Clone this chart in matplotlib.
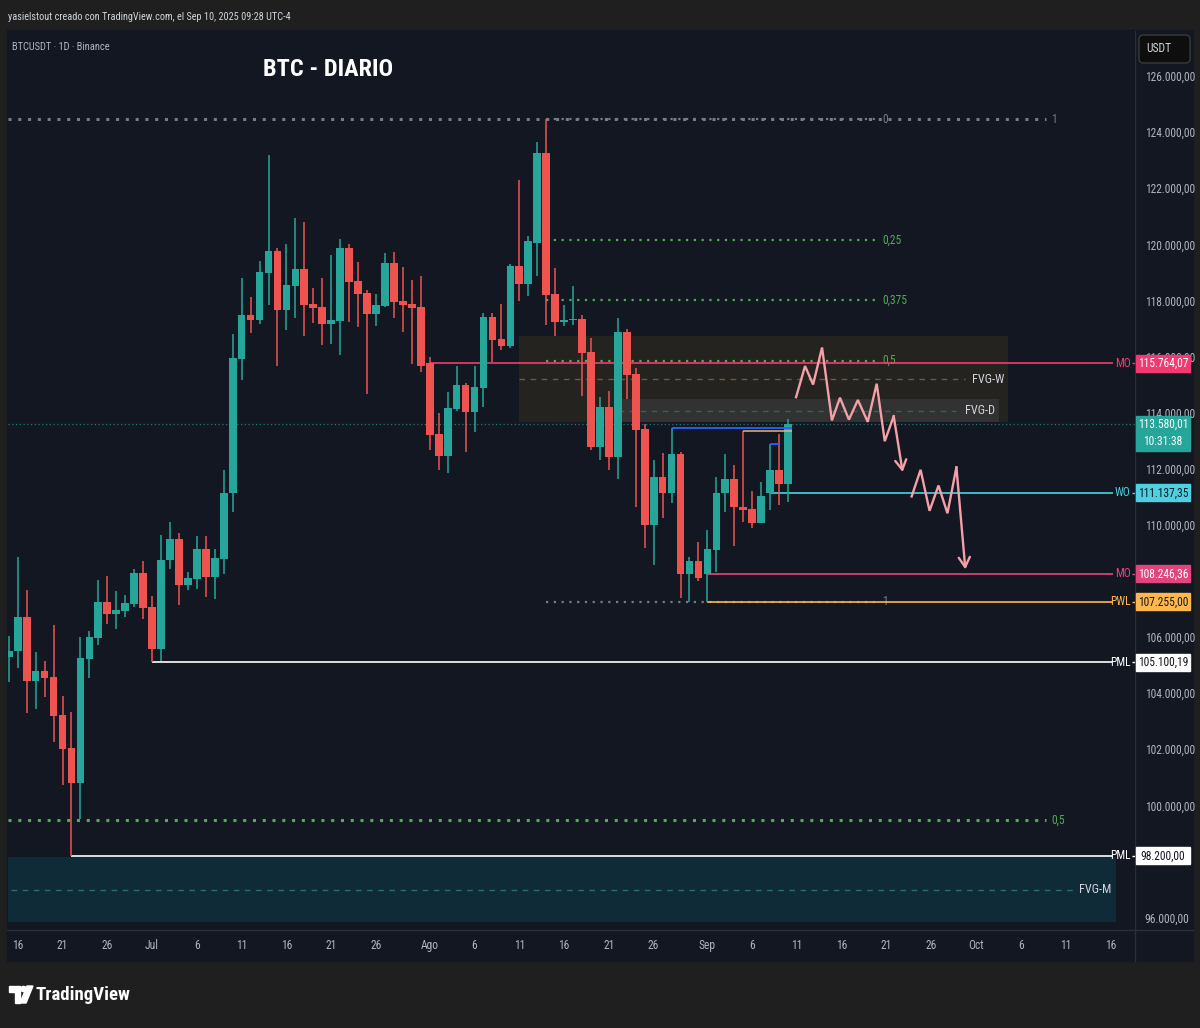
import matplotlib
matplotlib.use('Agg')
import matplotlib.pyplot as plt
import matplotlib.patches as mpatches
import matplotlib.transforms as mtransforms
from matplotlib import font_manager
import numpy as np
import pandas as pd

# pick a narrow face if the system has one
fonts = font_manager.fontManager.ttflist
names = {f.name for f in fonts}
STRETCH = 'normal'
if 'Liberation Sans Narrow' in names:
    NARROW = 'Liberation Sans Narrow'
elif 'Roboto Condensed' in names:
    NARROW = 'Roboto Condensed'
elif any(f.name == 'DejaVu Sans' and f.stretch == 'condensed' for f in fonts):
    NARROW, STRETCH = 'DejaVu Sans', 'condensed'
else:
    NARROW = 'DejaVu Sans'
plt.rcParams['font.family'] = [NARROW, 'DejaVu Sans']
plt.rcParams['font.stretch'] = STRETCH
SCALE = 1.0 if NARROW != 'DejaVu Sans' or STRETCH == 'condensed' else 0.82

# ---- data: BTCUSDT 1D, Jun 15 -> Sep 10 2025 ----
dates = pd.date_range('2025-06-15', '2025-09-10', freq='D')
opens = [105300, 105500, 106700, 104430, 104780, 104570, 103210, 102030, 100810, 105210,
         105960, 107250, 106820, 106930, 107180, 108290,
         107070, 105570, 108760, 109510, 107860, 108080, 109120, 108150, 108790, 111120,
         115910, 117480, 117300, 118990, 119770, 117660, 118520, 119130, 117880, 117770,
         117160, 117270, 119880, 118700, 118270, 117520, 117810, 119350, 117990, 117880,
         117770,
         115764, 113230, 112440, 114120, 114980, 114020, 114870, 117410, 116630, 116380,
         119240, 118590, 120060, 123250, 118240, 117230, 117300, 117340, 116160, 112760,
         114190, 112400, 116880, 115370, 113410, 110010, 111690, 111150, 112510, 108250,
         108720,
         108246, 109110, 111120, 111620, 110650, 110580, 110080, 111137, 111970, 111440]
highs = [106050, 108860, 107680, 105460, 105140, 106430, 103890, 103320, 106000, 106210,
         108040, 108180, 107640, 107500, 108430, 108720,
         107470, 109650, 110100, 109690, 108330, 109610, 109610, 109150, 111940, 116800,
         118810, 118130, 119420, 123170, 119880, 120020, 120950, 120780, 118450, 118810,
         119630, 120200, 120020, 119380, 118380, 118240, 119700, 119740, 119200, 118740,
         118880,
         115980, 113980, 114730, 115660, 115050, 115660, 117560, 117560, 117880, 119300,
         122280, 120280, 123640, 124450, 119170, 117840, 118520, 117480, 116660, 114550,
         114770, 117380, 116980, 115590, 113580, 112300, 112550, 113440, 112580, 108860,
         109400,
         109830, 111690, 112510, 112120, 113330, 111220, 111510, 112870, 113230, 113760]
lows = [104400, 104890, 103280, 103420, 103860, 102240, 100740, 98200, 99520, 104530,
        105710, 106460, 106290, 106710, 107070, 106640,
        105100, 105150, 108430, 107140, 107680, 107720, 107430, 107360, 108250, 110440,
        115160, 116840, 117160, 117840, 115660, 116950, 117380, 116730, 117200, 116410,
        116450, 116050, 117230, 117060, 114660, 117090, 117770, 117380, 116880, 115730,
        115450,
        112650, 111940, 111830, 114050, 112580, 113300, 114190, 115800, 116230, 116300,
        117990, 118160, 118880, 117130, 116730, 117090, 117130, 114590, 112660, 112300,
        111940, 111620, 114480, 110620, 109180, 108580, 110260, 110790, 107400, 107250,
        108000,
        107255, 108330, 110440, 109260, 110110, 109900, 110080, 110540, 110690, 110830]
closes = [105500, 106700, 104430, 104780, 104530, 103170, 101990, 100810, 105250, 106000,
          107250, 106820, 106970, 107220, 108290, 107040,
          105570, 108760, 109510, 107860, 108110, 109120, 108150, 108830, 111150, 115950,
          117480, 117300, 119020, 119770, 117660, 118560, 119130, 117840, 117740, 117160,
          117300, 119880, 118670, 118240, 117520, 117840, 119350, 117950, 117840, 117740,
          115660,
          113190, 112440, 114160, 114980, 114020, 114910, 117410, 116590, 116380, 119240,
          118590, 120100, 123250, 118200, 117230, 117310, 117340, 116130, 112760, 114190,
          112400, 116880, 115340, 113370, 110010, 111690, 111150, 112510, 108250, 108720,
          108110,
          109150, 111150, 111620, 110620, 110540, 110080, 111040, 111970, 111440, 113580.01]

# key levels (label, price, start date)
level_names = ['MO', 'WO', 'MO', 'PWL', 'PML', 'PML']
level_prices = [115764.07, 111137.35, 108246.36, 107255.00, 105100.19, 98200.00]
level_starts = ['2025-08-01', '2025-09-08', '2025-09-01', '2025-09-01', '2025-07-01', '2025-06-22']
level_colors = ['#f23a70', '#4dd0e1', '#e0467c', '#ffb74d', '#ffffff', '#ffffff']
level_box_text = ['#ffffff', '#131722', '#ffffff', '#131722', '#131722', '#131722']

# fair value gaps (name, top, bottom, start, end)
fvg_names = ['FVG-W', 'FVG-D', 'FVG-M']
fvg_tops = [116730, 114480, 98150]
fvg_bottoms = [113665, 113665, 95830]
fvg_starts = ['2025-08-11', '2025-08-22', '2025-06-14']
fvg_ends = ['2025-10-04', '2025-10-03', '2025-10-16']

# fib retracements
fib_high = 124450
fib_low_short = 107255
fib_low_long = 74500
fib_short_levels = [0, 0.25, 0.375, 0.5, 1]
fib_short_labels = ['0', '0,25', '0,375', '0,5', '1']
fib_long_levels = [1, 0.5]
fib_long_labels = ['1', '0,5']

# projected path (days after Jun 16, price)
path1_t = [86.9, 87.9, 88.8, 89.8, 90.9, 91.8, 92.8, 93.8, 94.9, 95.9, 96.8, 97.8, 98.8]
path1_p = [114550, 115660, 115000, 116320, 113720, 114530, 113750, 114450, 113670, 115030,
           112980, 113870, 111880]
path2_t = [99.8, 100.8, 101.8, 102.8, 103.8, 104.8, 105.8]
path2_p = [111010, 111960, 110500, 111400, 110410, 112050, 108410]

last_price = closes[-1]
# price scale labels (108k and 98k sit under the level boxes, so they're not shown)
y_ticks = [96000, 100000, 102000, 104000, 106000, 110000, 112000, 114000, 116000, 118000,
           120000, 122000, 124000, 126000]
x_ticks = ['2025-06-16', '2025-06-21', '2025-06-26', '2025-07-01', '2025-07-06', '2025-07-11',
           '2025-07-16', '2025-07-21', '2025-07-26', '2025-08-01', '2025-08-06', '2025-08-11',
           '2025-08-16', '2025-08-21', '2025-08-26', '2025-09-01', '2025-09-06', '2025-09-11',
           '2025-09-16', '2025-09-21', '2025-09-26', '2025-10-01', '2025-10-06', '2025-10-11',
           '2025-10-16']
x_labels = ['16', '21', '26', 'Jul', '6', '11', '16', '21', '26', 'Ago', '6', '11', '16', '21',
            '26', 'Sep', '6', '11', '16', '21', '26', 'Oct', '6', '11', '16']

# ---- style ----
BG = '#131722'
OUTER = '#1f1f1f'
UP, DN = '#26a69a', '#ef5350'
TXT = '#b2b5be'
GREEN = '#4caf50'
GREY = '#787b86'
ARROW = '#f4a0a8'
FS = 8.3 * SCALE  # small text size

W, H = 1200, 1028
T0 = pd.Timestamp('2025-06-16')
PX_PER_DAY = 8.957
PRICE_PER_PX = 1000 / 28.05


def day(d):
    return (pd.Timestamp(d) - T0).days


def rect(x0, y0, x1, y1):
    return [x0 / W, 1 - y1 / H, (x1 - x0) / W, (y1 - y0) / H]


def fmt(v):
    return f'{v:,.2f}'.replace(',', 'X').replace('.', ',').replace('X', '.')


fig = plt.figure(figsize=(12, 10.28), dpi=100, facecolor=OUTER)
fig.patches.append(mpatches.Rectangle((7 / W, 1 - 961 / H), 1186 / W, 931 / H,
                                      transform=fig.transFigure, color=BG, zorder=-5))
fig.lines.append(plt.Line2D([1135 / W, 1135 / W], [1 - 961 / H, 1 - 31 / H],
                            transform=fig.transFigure, color='#2a2e39', lw=1, zorder=-4))
fig.lines.append(plt.Line2D([7 / W, 1193 / W], [1 - 929.5 / H, 1 - 929.5 / H],
                            transform=fig.transFigure, color='#2a2e39', lw=1, zorder=-4))

ax = fig.add_axes(rect(8, 31, 1135, 929))
ax.set_zorder(1)
ax.set_facecolor(BG)
for s in ax.spines.values():
    s.set_visible(False)
x_left = (8 - 17) / PX_PER_DAY - 0.08
x_right = x_left + (1135 - 8) / PX_PER_DAY
ax.set_xlim(x_left, x_right)
y_top = 126000 + (76 - 31) * PRICE_PER_PX
ax.set_ylim(y_top - (929 - 31) * PRICE_PER_PX, y_top)

# candles
t = np.array([(d - T0).days for d in dates])
o, h, l, c = map(np.array, (opens, highs, lows, closes))
col = np.where(c >= o, UP, DN)
ax.vlines(t, l, h, colors=col, lw=1.1, zorder=4)
ax.bar(t, np.maximum(np.abs(c - o), 45), bottom=np.minimum(o, c), width=0.86,
       color=col, linewidth=0, zorder=5)

# FVG boxes
fvg_fill = ['#25231f', '#323232', '#102b38']
fvg_mid = ['#6e5a44', '#1e6b62', '#2d6a75']
for name, top, bot, s, e, fc, mc in zip(fvg_names, fvg_tops, fvg_bottoms, fvg_starts,
                                        fvg_ends, fvg_fill, fvg_mid):
    x0, x1 = day(s), day(e) + 0.6
    ax.add_patch(mpatches.Rectangle((x0, bot), x1 - x0, top - bot, color=fc, lw=0, zorder=1))
    mid = (top + bot) / 2
    ax.hlines(mid, x0, x1 - 4.8, colors=mc, lw=1, linestyles=(0, (4, 4)), zorder=2)
    ax.text(x1 - 0.5, mid, name, color='#d1d4dc', fontsize=FS + 0.5, ha='right',
            va='center', zorder=6)

# fib (long)
for lev, lab in zip(fib_long_levels, fib_long_labels):
    p = fib_low_long + (fib_high - fib_low_long) * lev
    cc = GREY if lev == 1 else GREEN
    ax.hlines(p, x_left, 114.8, colors=cc, lw=2.2, linestyles=(0, (1, 2.2)), zorder=2)
    ax.text(115.4, p, lab, color=cc, fontsize=FS, ha='left', va='center')

# fib (short)
for lev, lab in zip(fib_short_levels, fib_short_labels):
    p = fib_high - (fib_high - fib_low_short) * lev
    cc = GREY if lev in (0, 1) else GREEN
    ax.hlines(p, day('2025-08-14'), 96.1, colors=cc, lw=1.6, linestyles=(0, (1, 2.5)), zorder=2)
    ax.text(96.5, p, lab, color=cc, fontsize=FS, ha='left', va='center')

# current price line
ax.axhline(last_price, color=UP, lw=0.9, ls=(0, (1, 2)), alpha=0.7, zorder=2)

# key level lines + right labels
x_line_end = (1112 - 17) / PX_PER_DAY
x_label = (1130 - 17) / PX_PER_DAY
for name, p, s, cc in zip(level_names, level_prices, level_starts, level_colors):
    ax.hlines(p, day(s), x_line_end, colors=cc, lw=1.2, zorder=3)
    ax.text(x_label, p, name, color=cc, fontsize=FS, ha='right', va='center', zorder=6)
    ax.hlines(p, x_label + 0.15, x_right, colors=cc, lw=1, zorder=6)

# small swing-high lines
i28, i05, i08 = day('2025-08-28') + 1, day('2025-09-05') + 1, day('2025-09-08') + 1
ax.hlines(highs[i28], day('2025-08-28'), 86.4, colors='#2962ff', lw=1.3, zorder=6)
ax.hlines(highs[i05], day('2025-09-05'), 86.4, colors='#e8b56b', lw=1.1, zorder=6)
ax.hlines(highs[i08], day('2025-09-08'), day('2025-09-09'), colors='#2962ff', lw=1.3, zorder=6)

# projected path
for pt, pp in ((path1_t, path1_p), (path2_t, path2_p)):
    ax.plot(pt[:-1], pp[:-1], color=ARROW, lw=1.7, zorder=7, solid_joinstyle='miter')
    ax.annotate('', xy=(pt[-1], pp[-1]), xytext=(pt[-2], pp[-2]), zorder=7,
                arrowprops=dict(arrowstyle='->,head_length=0.7,head_width=0.4', color=ARROW,
                                lw=1.7, shrinkA=0, shrinkB=0))

# axes ticks
ax.yaxis.tick_right()
ax.set_yticks(y_ticks)
ax.set_yticklabels([fmt(v) for v in y_ticks])
ax.tick_params(axis='y', length=0, pad=7, labelcolor=TXT, labelsize=FS)
ax.set_xticks([day(d) for d in x_ticks])
ax.set_xticklabels(x_labels)
ax.tick_params(axis='x', length=0, pad=7, labelcolor=TXT, labelsize=FS)

# price boxes on the right scale
blend = mtransforms.blended_transform_factory(fig.transFigure, ax.transData)
bh = 17 * PRICE_PER_PX
for p, cc, tc in zip(level_prices, level_colors, level_box_text):
    ax.add_patch(mpatches.Rectangle((1136 / W, p - bh / 2), 54 / W, bh, transform=blend,
                                    color=cc, clip_on=False, zorder=10))
    ax.text(1163 / W, p, fmt(p), transform=blend, color=tc, fontsize=FS, ha='center',
            va='center', clip_on=False, zorder=11)
ax.add_patch(mpatches.Rectangle((1136 / W, last_price - 27 * PRICE_PER_PX), 54 / W,
                                35 * PRICE_PER_PX, transform=blend, color=UP,
                                clip_on=False, zorder=10))
ax.text(1163 / W, last_price, fmt(last_price), transform=blend, color='white', fontsize=FS,
        ha='center', va='center', zorder=11)
ax.text(1163 / W, last_price - 17 * PRICE_PER_PX, '10:31:38', transform=blend, color='white',
        fontsize=FS, ha='center', va='center', zorder=11)

# header / titles
fig.text(8 / W, 1 - 17 / H, 'yasielstout creado con TradingView.com, el Sep 10, 2025 09:28 UTC-4',
         color='#d1d4dc', fontsize=7.4 * SCALE, va='center')
fig.text(12 / W, 1 - 47 / H, 'BTCUSDT · 1D · Binance', color=TXT, fontsize=7.6 * SCALE,
         va='center')
fig.text(263 / W, 1 - 70 / H, 'BTC - DIARIO', color='white', fontsize=17.5 * SCALE,
         weight='bold', va='center')

# USDT button
fig.patches.append(mpatches.FancyBboxPatch((1139 / W, 1 - 63 / H), 51 / W, 28 / H,
                                           boxstyle='round,pad=0,rounding_size=0.004',
                                           transform=fig.transFigure, fc='#0e0e0e',
                                           ec='#3a3a3a', lw=1, zorder=2))
fig.text(1146 / W, 1 - 49 / H, 'USDT', color='#d1d4dc', fontsize=FS, va='center', zorder=3)

# footer logo
fig.patches.append(mpatches.Polygon([(9 / W, 1 - 986 / H), (20 / W, 1 - 986 / H),
                                     (20 / W, 1 - 1003 / H), (15 / W, 1 - 1003 / H),
                                     (15 / W, 1 - 992 / H), (9 / W, 1 - 992 / H)],
                                    closed=True, transform=fig.transFigure, color='white'))
fig.patches.append(mpatches.Circle((23.5 / W, 1 - 989 / H), 3 / W, transform=fig.transFigure,
                                   color='white'))
fig.patches.append(mpatches.Polygon([(27 / W, 1 - 986 / H), (33 / W, 1 - 986 / H),
                                     (26 / W, 1 - 1003 / H), (20 / W, 1 - 1003 / H)],
                                    closed=True, transform=fig.transFigure, color='white'))
fig.text(36 / W, 1 - 995 / H, 'TradingView', color='white', fontsize=13.5 * SCALE,
         weight='bold', va='center')

fig.savefig('out.png', dpi=100, facecolor=OUTER)
